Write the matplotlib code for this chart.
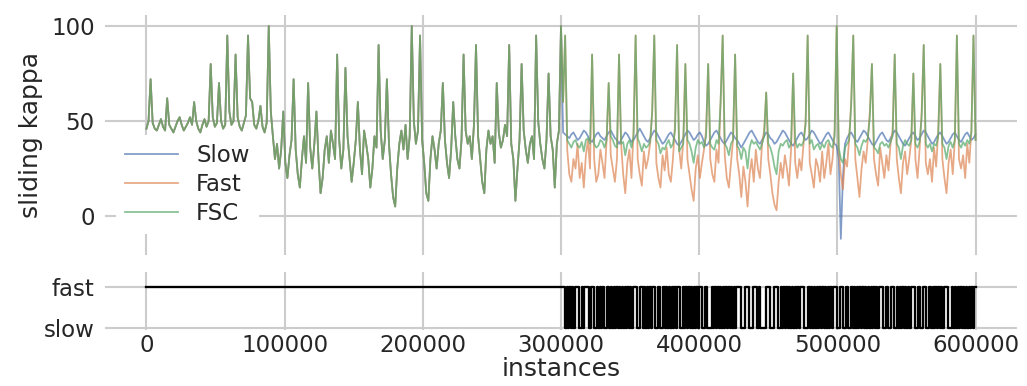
import numpy as np
import matplotlib
matplotlib.use("Agg")
import matplotlib.pyplot as plt

# ---------------------------------------------------------------------------
# Data
# ---------------------------------------------------------------------------
STEP = 1500  # instances between evaluation points

# Stable part of the stream (0 .. 300000): all three learners agree
kappa_stable = [
    46, 50, 72, 49, 46, 45, 48, 51, 47, 45,
    62, 48, 46, 44, 47, 50, 52, 48, 45, 47,
    49, 52, 48, 60, 50, 46, 44, 48, 51, 47,
    50, 80, 52, 47, 49, 70, 50, 46, 48, 95,
    55, 48, 50, 85, 52, 47, 45, 49, 53, 95,
    62, 60, 48, 46, 50, 58, 47, 44, 49, 100,
    55, 42, 30, 38, 25, 35, 55, 28, 20, 32,
    40, 72, 35, 22, 15, 30, 42, 28, 70, 36,
    25, 38, 55, 30, 12, 20, 35, 42, 28, 45,
    38, 30, 85, 40, 25, 35, 78, 42, 30, 18,
    28, 40, 60, 35, 22, 45, 38, 30, 15, 25,
    42, 36, 90, 45, 30, 40, 72, 38, 22, 10,
    5, 25, 38, 45, 35, 48, 30, 42, 100, 50,
    38, 45, 95, 40, 28, 12, 8, 30, 42, 35,
    25, 38, 45, 70, 40, 28, 20, 35, 60, 42,
    30, 25, 40, 85, 45, 38, 42, 30, 48, 90,
    42, 30, 18, 12, 35, 45, 38, 42, 28, 70,
    44, 36, 40, 48, 42, 90, 38, 30, 8, 25,
    40, 80, 45, 35, 28, 38, 42, 30, 95, 50,
    38, 30, 25, 40, 75, 42, 35, 15, 38, 45,
    100,
]

# Drifting part of the stream (301500 .. 600000)
slow_tail = [
    44, 43, 42, 41, 43, 44, 42, 40, 41, 43,
    45, 44, 42, 40, 39, 41, 43, 44, 42, 41,
    40, 42, 44, 45, 43, 41, 40, 38, 40, 42,
    44, 43, 41, 39, 40, 42, 44, 46, 44, 42,
    40, 39, 41, 43, 45, 44, 42, 40, 38, 39,
    41, 43, 44, 42, 40, 38, 37, 39, 41, 43,
    45, 44, 42, 40, 41, 43, 44, 42, 39, 37,
    38, 40, 42, 44, 45, 43, 41, 39, 38, 40,
    42, 44, 43, 41, 40, 38, 36, 38, 40, 42,
    44, 45, 43, 41, 39, 38, 40, 42, 44, 43,
    41, 40, 38, 39, 41, 43, 45, 44, 42, 40,
    38, 37, 39, 41, 43, 44, 42, 40, 41, 43,
    45, 44, 42, 40, 38, 39, 41, 43, 44, 42,
    40, 38, 37, 30, -12, 20, 38, 41, 43, 44,
    42, 40, 39, 41, 43, 45, 44, 42, 40, 38,
    37, 39, 41, 43, 44, 42, 40, 39, 41, 43,
    45, 44, 42, 40, 38, 37, 39, 41, 43, 44,
    42, 40, 41, 43, 45, 44, 42, 40, 38, 39,
    41, 43, 44, 42, 40, 38, 39, 41, 43, 44,
    42, 40, 39, 41, 43, 44, 42, 40, 41, 43,
]
fast_tail = [
    60, 95, 35, 22, 18, 30, 25, 38, 20, 28,
    15, 32, 40, 25, 85, 30, 18, 22, 35, 28,
    20, 40, 70, 32, 25, 18, 30, 85, 38, 22,
    12, 28, 35, 20, 45, 95, 30, 22, 16, 34,
    25, 30, 38, 55, 95, 28, 20, 15, 32, 24,
    36, 22, 18, 30, 48, 90, 35, 25, 40, 80,
    30, 22, 14, 8, 25, 32, 20, 28, 35, 45,
    80, 30, 22, 18, 35, 28, 60, 95, 32, 20,
    15, 28, 40, 85, 30, 22, 10, 26, 18, 5,
    22, 30, 18, 35, 25, 20, 38, 45, 65, 30,
    22, 12, 6, 3, 18, 28, 20, 32, 25, 16,
    35, 75, 28, 20, 30, 24, 38, 50, 95, 28,
    22, 15, 30, 26, 18, 34, 20, 28, 38, 22,
    30, 45, 100, 35, 22, 14, 30, 26, 40, 60,
    95, 30, 20, 10, 25, 34, 28, 40, 55, 80,
    30, 22, 16, 36, 28, 20, 32, 24, 38, 45,
    85, 30, 20, 12, 28, 34, 22, 30, 40, 75,
    30, 20, 35, 55, 90, 28, 22, 30, 18, 36,
    26, 45, 80, 30, 20, 12, 28, 35, 22, 40,
    95, 30, 25, 32, 20, 38, 28, 45, 95, 40,
]
fsc_tail = [
    60, 95, 40, 38, 36, 39, 40, 37, 36, 39,
    34, 40, 41, 38, 85, 38, 36, 37, 40, 39,
    36, 40, 70, 42, 40, 37, 36, 85, 38, 39,
    32, 38, 40, 36, 42, 95, 41, 38, 34, 38,
    36, 37, 39, 55, 95, 40, 38, 33, 36, 35,
    38, 40, 36, 38, 45, 90, 34, 36, 38, 80,
    40, 38, 34, 28, 36, 40, 38, 39, 36, 42,
    80, 38, 36, 35, 40, 38, 60, 95, 38, 36,
    32, 38, 40, 85, 37, 35, 30, 36, 34, 25,
    36, 40, 38, 39, 37, 35, 38, 42, 65, 38,
    36, 32, 26, 22, 34, 38, 37, 39, 40, 36,
    38, 75, 40, 36, 38, 37, 39, 48, 95, 38,
    40, 35, 37, 38, 35, 38, 36, 39, 40, 37,
    36, 42, 100, 36, 30, 28, 36, 38, 40, 58,
    95, 38, 36, 32, 37, 40, 39, 41, 52, 80,
    36, 35, 33, 38, 39, 37, 38, 36, 39, 42,
    85, 38, 36, 30, 37, 40, 38, 37, 40, 75,
    38, 36, 39, 52, 90, 38, 36, 38, 34, 38,
    37, 42, 80, 38, 36, 30, 37, 39, 36, 40,
    95, 38, 36, 39, 37, 40, 38, 44, 95, 40,
]

# Model chosen by FSC: '1' = fast, '0' = slow, one character per 1000
# instances starting at 300000; before that the fast model is used.
SEL_START = 300000
SEL_STEP = 1000
selector_bits = (
    "111" "01010101" "1100" "101" "1100110" "010101" "0011"
    "010101010101010101" "1100110" "101010" "11001100" "1010101010"
    "1100" "101010101010" "11001100" "0101010101010101010"
    "11100011100011" "1010" "0001110001110"
    "0101010101010101" "1100" "01010101010101010101"
    "1100110011001" "01010101010101010101" "1100110011001"
    "0101010101" "11001100110011" "0101010101" "1100"
    "01010101010101010" "11"
)

series_names = ["Slow", "Fast", "FSC"]
series_colors = ["#4c72b0", "#dd8452", "#55a868"]
x_ticks = [0, 100000, 200000, 300000, 400000, 500000, 600000]
y_ticks = [0, 50, 100]
sel_labels = ["slow", "fast"]

# ---------------------------------------------------------------------------
# Build series
# ---------------------------------------------------------------------------
slow = np.array(kappa_stable + slow_tail, dtype=float)
fast = np.array(kappa_stable + fast_tail, dtype=float)
fsc = np.array(kappa_stable + fsc_tail, dtype=float)
inst = np.arange(len(slow)) * STEP

sel_vals = [1] + [int(c) for c in selector_bits]
sel_x = np.concatenate([[0], SEL_START + SEL_STEP * np.arange(len(selector_bits))])

# ---------------------------------------------------------------------------
# Figure
# ---------------------------------------------------------------------------
W, H, DPI = 1027, 386, 150
TEXT = "#262626"
GRID = "#cccccc"

fig = plt.figure(figsize=(W / DPI, H / DPI), dpi=DPI)


def px_rect(left, top, right, bottom):
    return [left / W, 1 - bottom / H, (right - left) / W, (bottom - top) / H]


ax = fig.add_axes(px_rect(105, 15, 1017, 255))
ax_sel = fig.add_axes(px_rect(105, 272, 1017, 330), sharex=ax)

for a in (ax, ax_sel):
    for s in a.spines.values():
        s.set_visible(False)
    a.grid(True, color=GRID, linewidth=1.0)
    a.set_axisbelow(True)
    a.tick_params(length=0, labelsize=11, labelcolor=TEXT, pad=5)

# kappa curves
for vals, name, col in zip([slow, fast, fsc], series_names, series_colors):
    ax.plot(inst, vals, color=col, lw=0.85, alpha=0.7, label=name)

ax.set_xlim(-30000, 630000)
ax.set_ylim(-20.5, 105.8)
ax.set_yticks(y_ticks)
ax.set_ylabel("sliding kappa", fontsize=12, color=TEXT)
ax.tick_params(axis="x", labelbottom=False)

leg = ax.legend(loc="upper left", bbox_to_anchor=(0.012, 0.5), borderaxespad=0,
                fontsize=11, frameon=True, framealpha=1, facecolor="white",
                edgecolor="none", handlelength=2.3, labelspacing=0.25,
                fancybox=False)
for t in leg.get_texts():
    t.set_color(TEXT)

# model selection
ax_sel.plot(sel_x, sel_vals, drawstyle="steps-post", color="black", lw=1.1)
ax_sel.set_ylim(-0.05, 1.366)
ax_sel.set_yticks([0, 1])
ax_sel.set_yticklabels(sel_labels)
ax_sel.set_xticks(x_ticks)
ax_sel.set_xticklabels([str(v) for v in x_ticks])
ax_sel.tick_params(axis="x", pad=2)
ax_sel.set_xlabel("instances", fontsize=12, color=TEXT, labelpad=0)

fig.savefig("out.png", dpi=DPI)
